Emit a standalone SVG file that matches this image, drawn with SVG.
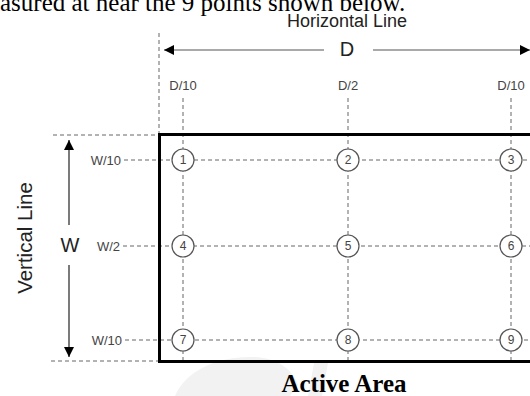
<svg xmlns="http://www.w3.org/2000/svg" width="530" height="396" viewBox="0 0 530 396">
<style>
.dash{stroke:#666;stroke-width:1;stroke-dasharray:4 3;fill:none}
.pt circle{fill:#fff;stroke:#555;stroke-width:1.2}
.pt text{font-family:"Liberation Sans",Arial,sans-serif;font-size:12px;fill:#444;text-anchor:middle;dominant-baseline:central}
.lbl{font-family:"Liberation Sans",Arial,sans-serif;font-size:13px;fill:#444}
.big{font-family:"Liberation Sans",Arial,sans-serif;fill:#222}
.serif{font-family:"Liberation Serif","Times New Roman",serif;fill:#000}
.wm{fill:#f2f2f2}
</style>
<defs>
<marker id="ah" viewBox="0 0 10 10" refX="10" refY="5" markerWidth="10" markerHeight="10" markerUnits="userSpaceOnUse" orient="auto">
<path d="M0,0 L10,5 L0,10 Z" fill="#000"/>
</marker>
</defs>
<rect width="530" height="396" fill="#fff"/>
<g id="watermark">
<path class="wm" d="M175,396 C185,372 215,357 250,357 C275,357 292,368 298,385 L290,396 Z"/>
<path class="wm" d="M308,396 L314,363 L328,363 L322,396 Z"/>
</g>
<text class="serif" x="0" y="11" font-size="25">asured at near the 9 points shown below.</text>
<text class="big" x="347" y="27" font-size="18" text-anchor="middle">Horizontal Line</text>
<text class="big" x="347" y="56" font-size="20" text-anchor="middle">D</text>
<text class="big" transform="translate(32,238) rotate(-90)" font-size="20.5" text-anchor="middle">Vertical Line</text>
<text class="big" x="70" y="252" font-size="20" text-anchor="middle">W</text>
<text class="lbl" x="183" y="90" text-anchor="middle">D/10</text>
<text class="lbl" x="348" y="90" text-anchor="middle">D/2</text>
<text class="lbl" x="511" y="90" text-anchor="middle">D/10</text>
<text class="lbl" x="121" y="164.5" text-anchor="end">W/10</text>
<text class="lbl" x="120" y="250.5" text-anchor="end">W/2</text>
<text class="lbl" x="122" y="344.5" text-anchor="end">W/10</text>
<g id="connectors">
<line class="dash" x1="159" y1="33" x2="159" y2="134"/>
<line class="dash" x1="53" y1="135" x2="158" y2="135"/>
<line class="dash" x1="51" y1="361" x2="158" y2="361"/>
<line class="dash" x1="183" y1="98" x2="183" y2="362"/>
<line class="dash" x1="348" y1="98" x2="348" y2="362"/>
<line class="dash" x1="511" y1="98" x2="511" y2="362"/>
<line class="dash" x1="124" y1="160" x2="530" y2="160"/>
<line class="dash" x1="123" y1="246" x2="530" y2="246"/>
<line class="dash" x1="125" y1="340" x2="530" y2="340"/>
<line x1="324" y1="50" x2="164" y2="50" stroke="#555" stroke-width="1.2" marker-end="url(#ah)"/>
<line x1="373" y1="50" x2="530" y2="50" stroke="#555" stroke-width="1.2" marker-end="url(#ah)"/>
<line x1="69" y1="225" x2="69" y2="140" stroke="#222" stroke-width="1.2" marker-end="url(#ah)"/>
<line x1="69" y1="265" x2="69" y2="357" stroke="#222" stroke-width="1.2" marker-end="url(#ah)"/>
</g>
<g id="active-area">
<path d="M535,134.5 H159.5 V361.5 H535" fill="none" stroke="#000" stroke-width="3"/>
<text class="serif" x="344" y="392" font-size="25" font-weight="bold" text-anchor="middle">Active Area</text>
</g>
<g id="p1" class="pt"><circle cx="183" cy="160" r="11"/><text x="183" y="160">1</text></g>
<g id="p2" class="pt"><circle cx="348" cy="160" r="11"/><text x="348" y="160">2</text></g>
<g id="p3" class="pt"><circle cx="511" cy="160" r="11"/><text x="511" y="160">3</text></g>
<g id="p4" class="pt"><circle cx="183" cy="246" r="11"/><text x="183" y="246">4</text></g>
<g id="p5" class="pt"><circle cx="348" cy="246" r="11"/><text x="348" y="246">5</text></g>
<g id="p6" class="pt"><circle cx="511" cy="246" r="11"/><text x="511" y="246">6</text></g>
<g id="p7" class="pt"><circle cx="183" cy="340" r="11"/><text x="183" y="340">7</text></g>
<g id="p8" class="pt"><circle cx="348" cy="340" r="11"/><text x="348" y="340">8</text></g>
<g id="p9" class="pt"><circle cx="511" cy="340" r="11"/><text x="511" y="340">9</text></g>
</svg>
